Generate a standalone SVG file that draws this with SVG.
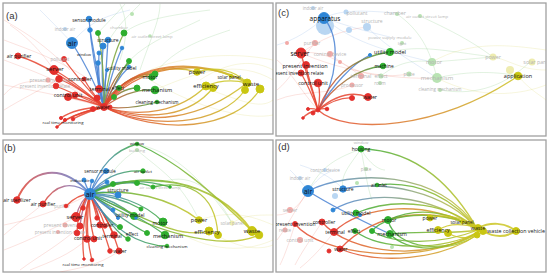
<svg xmlns="http://www.w3.org/2000/svg" width="550" height="277" viewBox="0 0 550 277">
<defs>
<style>
.fr{fill:#fff;stroke:#a0a0a0;stroke-width:1.3}
.pl{font-family:"Liberation Sans",Arial,sans-serif;font-size:9.5px;fill:#333}
.lb{font-family:"Open Sans","Liberation Sans",sans-serif;fill:#111;text-anchor:middle;dominant-baseline:central}
.fd{font-family:"Open Sans","Liberation Sans",sans-serif;fill:#b4b4b4;text-anchor:middle;dominant-baseline:central}
.r{fill:#e3302c;stroke:#e3302c;stroke-width:.9}.b{fill:#2f86d6;stroke:#2f86d6;stroke-width:.9}.g{fill:#2eae2e;stroke:#2eae2e;stroke-width:.9}.y{fill:#c9c612;stroke:#c9c612;stroke-width:.9}
.fr2{fill:#f3a9a6}.fb2{fill:#b9d6f2}.fg2{fill:#b9e3b3}.fy2{fill:#eeecb0}
.e{fill:none;stroke-width:1.3;stroke-opacity:.85;stroke-linecap:round}
.ew{fill:none;stroke-width:2;stroke-opacity:.85;stroke-linecap:round}
.h{fill:none;stroke-width:.9;stroke-opacity:.17}
.er{stroke:#e5432e}.eb{stroke:#4a83d4}.eg{stroke:#3aa838}.ey{stroke:#cbc524}.eo{stroke:#ea7a2a}
</style>
<linearGradient id="gRY" x1="0" y1="0" x2="1" y2="0"><stop offset="0" stop-color="#e5432e"/><stop offset="1" stop-color="#cbc524"/></linearGradient>
<linearGradient id="gRG" x1="0" y1="0" x2="1" y2="0"><stop offset="0" stop-color="#e5432e"/><stop offset="1" stop-color="#3aa838"/></linearGradient>
<linearGradient id="gGY" x1="0" y1="0" x2="1" y2="0"><stop offset="0" stop-color="#3aa838"/><stop offset="1" stop-color="#cbc524"/></linearGradient>
<linearGradient id="gBY" x1="0" y1="0" x2="1" y2="0"><stop offset="0" stop-color="#4a83d4"/><stop offset="1" stop-color="#cbc524"/></linearGradient>
<linearGradient id="gBG" x1="0" y1="0" x2="1" y2="0"><stop offset="0" stop-color="#4a83d4"/><stop offset="1" stop-color="#3aa838"/></linearGradient>
<linearGradient id="gRB" x1="0" y1="0" x2="1" y2="0"><stop offset="0" stop-color="#e5432e"/><stop offset=".5" stop-color="#9a6a9a"/><stop offset="1" stop-color="#4a83d4"/></linearGradient>
<clipPath id="ca"><rect x="3" y="3" width="270" height="131"/></clipPath>
<clipPath id="cc"><rect x="276" y="3" width="270" height="133"/></clipPath>
<clipPath id="cb"><rect x="3" y="140" width="270" height="132"/></clipPath>
<clipPath id="cd"><rect x="276" y="140" width="270" height="132"/></clipPath>
</defs>
<rect width="550" height="277" fill="#fff"/>
<rect class="fr" x="3" y="3" width="270" height="131"/>
<rect class="fr" x="276" y="3" width="270" height="133"/>
<rect class="fr" x="3" y="140" width="270" height="132"/>
<rect class="fr" x="276" y="140" width="270" height="132"/>

<!-- ============ PANEL A ============ -->
<g id="panel-a" clip-path="url(#ca)">
<g id="a-haze">
<path class="h er" d="M104,107 C60,80 30,70 4,60"/><path class="h er" d="M104,107 C60,95 30,90 4,85"/><path class="h er" d="M90,80 C60,60 30,50 4,40"/><path class="h er" d="M80,90 C50,80 20,75 4,95"/><path class="h er" d="M70,70 C40,40 20,30 4,20"/><path class="h er" d="M54,70 C40,50 25,35 10,25"/><path class="h er" d="M59,79 C40,90 20,100 4,110"/>
<path class="h eg" d="M120,60 C130,30 125,15 120,4"/><path class="h eg" d="M100,60 C110,30 130,15 140,4"/><path class="h eg" d="M130,60 C150,40 180,30 200,20"/><path class="h eg" d="M150,80 C170,50 200,40 230,30"/><path class="h eg" d="M140,70 C150,40 160,20 160,4"/><path class="h eg" d="M124,33 C140,20 170,15 210,10"/><path class="h eg" d="M98,33 C110,20 120,10 125,4"/>
<path class="h ey" d="M200,80 C230,60 255,60 273,70"/><path class="h ey" d="M210,90 C240,100 260,110 273,100"/><path class="h ey" d="M150,80 C200,110 250,120 273,115"/><path class="h ey" d="M150,70 C200,50 250,55 273,60"/><path class="h ey" d="M155,90 C200,70 240,60 273,80"/>
<path class="h eb" d="M72,43 C60,30 50,20 40,10"/><path class="h eb" d="M72,43 C90,20 110,15 130,10"/>
<circle class="fb2" cx="65" cy="29" r="2"/><circle class="fg2" cx="150" cy="36" r="1.8"/><circle class="fg2" cx="132" cy="14" r="2"/><circle class="fr2" cx="48" cy="80" r="2.5"/>
</g>
<g id="a-edges">
<path class="e er" d="M104,107 Q50,65 18,56"/><path class="e er" d="M104,107 Q75,75 64,59"/><path class="e er" d="M104,107 Q70,78 54,70"/><path class="e er" d="M104,107 Q75,85 59,79"/><path class="e er" d="M104,107 Q70,92 56,86"/><path class="e er" d="M104,107 Q85,100 68,97"/><path class="e er" d="M104,107 Q88,96 75,95"/><path class="e er" d="M104,107 Q102,98 99,89"/><path class="e er" d="M104,107 Q98,103 97,98"/><path class="e er" d="M104,107 Q90,90 84,79"/><path class="e er" d="M104,107 Q75,108 61,118"/><path class="e er" d="M104,107 Q80,112 65,120"/><path class="e er" d="M104,107 Q86,112 73,119"/><path class="e er" d="M104,107 Q70,114 57,127"/><path class="e er" d="M104,107 Q98,110 93,109"/>
<path class="e eb" d="M104,107 Q90,70 72,43"/><path class="e eb" d="M104,107 Q92,60 89,19"/><path class="e eb" d="M104,107 Q96,65 90,30"/><path class="e eb" d="M104,107 Q106,70 108,40"/><path class="e eb" d="M104,107 Q101,75 103,46"/><path class="e eb" d="M104,107 Q97,80 99,53"/><path class="e eb" d="M104,107 Q96,85 98,63"/><path class="e eb" d="M104,107 Q112,70 122,48"/><path class="e eb" d="M104,107 Q115,80 129,67"/><path class="e eb" d="M104,107 Q104,85 107,70"/>
<path class="e" stroke="#7aa53a" d="M104,107 Q104,60 98,33"/><path class="e" stroke="#7aa53a" d="M104,107 Q110,60 124,33"/><path class="e" stroke="url(#gRG)" d="M104,107 Q112,75 130,63"/><path class="e" stroke="url(#gRG)" d="M104,107 Q125,72 152,77"/><path class="e" stroke="url(#gRG)" d="M104,107 Q125,72 155,74"/><path class="e" stroke="url(#gRG)" d="M104,107 Q130,88 155,90"/><path class="e" stroke="url(#gRG)" d="M104,107 Q120,88 137,88"/><path class="e" stroke="url(#gRG)" d="M104,107 Q110,92 119,88"/><path class="e" stroke="url(#gRG)" d="M104,107 Q108,98 114,97"/><path class="e" stroke="url(#gRG)" d="M104,107 Q130,110 157,102"/><path class="e" stroke="url(#gRG)" d="M104,107 Q118,75 129,61"/>
<path class="e" stroke="url(#gRY)" d="M104,107 C130,70 170,64 197,72"/><path class="ew" stroke="url(#gRY)" d="M104,107 C130,58 205,58 247,83"/><path class="e" stroke="url(#gRY)" d="M104,107 C140,62 200,62 231,76"/><path class="e" stroke="url(#gRY)" d="M104,107 C140,118 180,112 206,86"/><path class="e" stroke="url(#gRY)" d="M104,107 C150,122 190,116 213,88"/><path class="e" stroke="url(#gRY)" d="M104,107 C150,130 220,126 245,90"/><path class="e" stroke="url(#gRY)" d="M104,107 C160,136 235,130 260,89"/><path class="e" stroke="url(#gRY)" d="M104,107 C150,126 200,120 247,83"/>
<path class="e ey" d="M197,72 C215,66 235,70 247,83"/><path class="e ey" d="M206,86 C220,80 235,80 247,83"/>
</g>
<text class="pl" x="6" y="19">(a)</text>
<text class="fd" x="65" y="29" font-size="4.5">indoor air</text>
<text class="fd" x="152" y="36" font-size="4.2">air outlet street lamp</text>
<text class="fd" x="119" y="27" font-size="4.3">chamber</text>
<text class="fd" x="50" y="80" font-size="5">present invention</text>
<text class="fd" x="45" y="86" font-size="4.5">present invention relate</text>
<g id="a-sensor-module"><circle class="b" cx="89" cy="19" r="2.8"/><text class="lb" x="89" y="20" font-size="4.8">sensor module</text></g>
<g id="a-air"><circle class="b" cx="72" cy="43" r="5.5"/><text class="lb" x="72" y="43" font-size="7.5">air</text></g>
<g id="a-b1"><circle class="b" cx="90" cy="30" r="2.3"/></g>
<g id="a-structure"><circle class="b" cx="108" cy="40" r="2.8"/><circle class="b" cx="103" cy="46" r="3"/><text class="lb" x="108" y="40" font-size="5">structure</text></g>
<g id="a-window"><circle class="b" cx="99" cy="53" r="2"/><text class="lb" x="84" y="54" font-size="3.8">window</text></g>
<g id="a-b2"><circle class="b" cx="98" cy="63" r="2.3"/><circle class="b" cx="122" cy="48" r="1.8"/><circle class="b" cx="107" cy="70" r="1.5"/></g>
<g id="a-g1"><circle class="g" cx="98" cy="33" r="2.5"/><circle class="g" cx="124" cy="33" r="3"/></g>
<g id="a-utility-model"><circle class="g" cx="129" cy="61" r="2.5"/><circle class="b" cx="129" cy="67" r="1.8"/><text class="lb" x="122" y="68" font-size="5">utility model</text></g>
<g id="a-motor"><circle class="g" cx="155" cy="74" r="3"/><circle class="g" cx="152" cy="77" r="3.2"/><text class="lb" x="150" y="77" font-size="5.2">motor</text></g>
<g id="a-effect"><circle class="g" cx="119" cy="88" r="2.5"/><circle class="g" cx="114" cy="97" r="2.5"/><text class="lb" x="118" y="88" font-size="4.8">effect</text></g>
<g id="a-g2"><circle class="g" cx="137" cy="88" r="3"/></g>
<g id="a-mechanism"><circle class="g" cx="155" cy="90" r="3.8"/><text class="lb" x="157" y="90" font-size="5.6">mechanism</text></g>
<g id="a-cleaning-mechanism"><circle class="g" cx="157" cy="102" r="1.8"/><text class="lb" x="157" y="102" font-size="4.5">cleaning mechanism</text></g>
<g id="a-air-purifier"><circle class="r" cx="18" cy="56" r="3"/><text class="lb" x="19" y="56" font-size="5">air purifier</text></g>
<g id="a-pollutant"><circle class="r" cx="64" cy="59" r="2.5"/><text class="fd" x="60" y="59" font-size="4.5" fill="#999">pollutant</text></g>
<g id="a-server"><circle class="r" cx="54" cy="70" r="4.5"/><circle class="r" cx="59" cy="79" r="3.3"/><circle class="r" cx="56" cy="86" r="2.8"/><text class="lb" x="55" y="69" font-size="6">server</text></g>
<g id="a-controller"><circle class="r" cx="84" cy="79" r="2"/><text class="lb" x="80" y="79" font-size="5.2">controller</text></g>
<g id="a-control-unit"><circle class="r" cx="68" cy="97" r="3.5"/><circle class="r" cx="75" cy="95" r="3"/><text class="lb" x="68" y="95" font-size="5.3">control unit</text></g>
<g id="a-terminal"><circle class="r" cx="99" cy="89" r="3.5"/><circle class="r" cx="97" cy="98" r="3"/><text class="lb" x="100" y="89" font-size="5.3">terminal</text></g>
<g id="a-water"><circle class="r" cx="104" cy="107" r="3.5"/><circle class="r" cx="93" cy="109" r="2.5"/><circle class="r" cx="110" cy="107" r="2"/><text class="lb" x="103" y="107" font-size="5">water</text></g>
<g id="a-real-time-monitoring"><circle class="r" cx="61" cy="118" r="1.6"/><circle class="r" cx="65" cy="120" r="1.6"/><circle class="r" cx="73" cy="119" r="1.8"/><circle class="r" cx="57" cy="127" r="1.3"/><text class="lb" x="63" y="122" font-size="4.3">real time monitoring</text></g>
<g id="a-power"><circle class="y" cx="197" cy="72" r="3.3"/><text class="lb" x="197" y="72" font-size="5.6">power</text></g>
<g id="a-solar-panel"><circle class="y" cx="231" cy="76" r="1.8"/><text class="lb" x="229" y="77" font-size="4.5">solar panel</text></g>
<g id="a-efficiency"><circle class="y" cx="206" cy="86" r="4"/><circle class="y" cx="213" cy="88" r="3.5"/><text class="lb" x="206" y="86" font-size="5.8">efficiency</text></g>
<g id="a-waste"><circle class="y" cx="247" cy="83" r="4"/><circle class="y" cx="245" cy="90" r="3.5"/><circle class="y" cx="260" cy="89" r="4"/><text class="lb" x="251" y="84" font-size="6">waste</text></g>
</g>

<!-- ============ PANEL C ============ -->
<g id="panel-c" clip-path="url(#cc)">
<g id="c-haze">
<path class="h er" d="M318,110 C300,90 290,70 277,60"/><path class="h er" d="M301,53 C320,40 340,30 367,27"/><path class="h er" d="M330,54 C350,70 370,80 409,74"/><path class="h er" d="M315,43 C300,60 290,80 277,90"/><path class="h er" d="M361,76 C340,60 320,50 301,53"/><path class="h er" d="M352,85 C330,95 300,90 277,100"/><path class="h er" d="M301,53 C340,70 390,80 437,78"/>
<path class="h eb" d="M324,18 C340,10 360,10 395,13"/><path class="h eb" d="M324,18 C345,25 360,30 390,37"/><path class="h eb" d="M324,18 C350,40 380,50 432,62"/><path class="h eb" d="M367,27 C390,50 410,60 437,78"/><path class="h eb" d="M324,18 C310,30 295,40 277,45"/>
<path class="h eg" d="M397,14 C420,30 430,50 437,78"/><path class="h eg" d="M432,62 C460,60 480,58 493,57"/><path class="h eg" d="M437,78 C470,70 500,72 518,76"/><path class="h eg" d="M381,76 C400,60 420,60 432,62"/><path class="h eg" d="M440,90 C470,95 500,90 530,62"/><path class="h eg" d="M420,16 C450,30 470,40 493,57"/><path class="h eg" d="M390,52 C420,45 440,50 493,57"/>
<path class="h ey" d="M493,57 C510,60 520,70 546,70"/><path class="h ey" d="M518,76 C530,90 540,95 546,100"/><path class="h ey" d="M437,78 C480,100 520,95 546,85"/><path class="h ey" d="M432,62 C470,40 510,45 546,50"/>
<circle class="fb2" cx="325" cy="26" r="9"/><circle class="fb2" cx="367" cy="27" r="4"/><circle class="fb2" cx="349" cy="30" r="3"/><circle class="fb2" cx="313" cy="8" r="2"/><circle class="fb2" cx="346" cy="12" r="2.5"/>
<circle class="fg2" cx="397" cy="14" r="2"/><circle class="fg2" cx="420" cy="16" r="2"/><circle class="fg2" cx="432" cy="62" r="4"/><circle class="fg2" cx="437" cy="78" r="5"/><circle class="fg2" cx="440" cy="90" r="2"/><circle class="fg2" cx="409" cy="74" r="2.5"/><circle class="fg2" cx="381" cy="76" r="2.5"/><circle class="fg2" cx="380" cy="83" r="2"/><circle class="fg2" cx="402" cy="43" r="2"/>
<circle class="fy2" cx="493" cy="57" r="3.5"/><circle class="fy2" cx="532" cy="62" r="3.5"/><circle class="fy2" cx="510" cy="70" r="4"/>
<circle class="fr2" cx="315" cy="43" r="3"/><circle class="fr2" cx="330" cy="54" r="3"/><circle class="fr2" cx="361" cy="76" r="3"/><circle class="fr2" cx="352" cy="85" r="2.5"/><circle class="fr2" cx="287" cy="43" r="2"/><circle class="fr2" cx="340" cy="62" r="2"/>
</g>
<g id="c-edges">
<path class="e eb" d="M318,110 C337,80 342,40 324,18"/>
<path class="e eb" d="M318,110 C333,85 352,64 370,55"/>
<path class="e" stroke="url(#gRG)" d="M318,110 C330,80 350,58 390,52"/>
<path class="e" stroke="url(#gRG)" d="M318,110 C333,86 358,68 383,66"/>
<path class="e er" d="M318,110 C332,98 350,90 368,97"/><path class="e er" d="M318,110 C330,102 342,97 352,98"/>
<path class="e" stroke="url(#gRY)" d="M318,110 C345,135 440,130 518,76"/>
<path class="e er" d="M318,110 C312,90 305,70 301,53"/><path class="e er" d="M318,110 C314,92 308,78 306,65"/><path class="e er" d="M318,110 C312,95 305,80 301,73"/><path class="e er" d="M318,110 C320,100 320,90 318,83"/>
<path class="e er" d="M318,110 Q312,108 308,109"/><path class="e er" d="M318,110 Q314,112 313,113"/><path class="e er" d="M318,110 Q323,108 327,109"/><path class="e er" d="M318,110 Q308,112 303,118"/>
</g>
<text class="pl" x="278" y="16">(c)</text>
<text class="fd" x="313" y="8" font-size="4.5">indoor air</text>
<text class="fd" x="357" y="13" font-size="5">pollutant</text>
<text class="fd" x="395" y="13" font-size="5.3">chamber</text>
<text class="fd" x="427" y="16" font-size="4.3">air outlet street lamp</text>
<text class="fd" x="372" y="21" font-size="5">structure</text>
<text class="fd" x="390" y="37" font-size="4.3">power supply module</text>
<text class="fd" x="402" y="43" font-size="4.3">light</text>
<text class="fd" x="312" y="43" font-size="4.8">purifier</text>
<text class="fd" x="330" y="54" font-size="5">control device</text>
<text class="fd" x="361" y="76" font-size="5.3">terminal</text>
<text class="fd" x="381" y="76" font-size="5">effect</text>
<text class="fd" x="409" y="74" font-size="4.8">plate</text>
<text class="fd" x="352" y="85" font-size="4.8">processor</text>
<text class="fd" x="380" y="83" font-size="4.5">room</text>
<text class="fd" x="434" y="62" font-size="5.6">motor</text>
<text class="fd" x="437" y="78" font-size="6">mechanism</text>
<text class="fd" x="440" y="89" font-size="4.5">cleaning mechanism</text>
<text class="fd" x="493" y="57" font-size="5.3">power</text>
<text class="fd" x="537" y="62" font-size="5.3">solar panel</text>
<g id="c-apparatus"><circle class="b" cx="324" cy="18" r="5.5"/><text class="lb" x="325" y="18" font-size="6.5">apparatus</text></g>
<g id="c-b1"><circle class="b" cx="370" cy="55" r="1.6"/></g>
<g id="c-utility-model"><circle class="g" cx="390" cy="52" r="3.6"/><text class="lb" x="390" y="52" font-size="5.5">utility model</text></g>
<g id="c-machine"><circle class="g" cx="383" cy="66" r="2.8"/><text class="lb" x="384" y="66" font-size="4.8">machine</text></g>
<g id="c-server"><circle class="r" cx="301" cy="53" r="5"/><text class="lb" x="300" y="53" font-size="6.5">server</text></g>
<g id="c-present-invention"><circle class="r" cx="306" cy="65" r="3.5"/><circle class="r" cx="301" cy="73" r="3"/><text class="lb" x="305" y="66" font-size="5.5">present invention</text></g>
<g id="c-present-invention-relate"><text class="lb" x="297" y="73" font-size="4.8" fill="#666">present invention relate</text></g>
<g id="c-control-unit"><circle class="r" cx="318" cy="83" r="3.8"/><text class="lb" x="313" y="83" font-size="5.5">control unit</text></g>
<g id="c-water"><circle class="r" cx="368" cy="97" r="3.5"/><circle class="r" cx="352" cy="98" r="2.5"/><text class="lb" x="370" y="97" font-size="5.3">water</text></g>
<g id="c-hub"><circle class="r" cx="318" cy="110" r="2"/><circle class="r" cx="308" cy="109" r="1.5"/><circle class="r" cx="313" cy="113" r="2"/><circle class="r" cx="327" cy="109" r="1.8"/><circle class="r" cx="303" cy="118" r="1.3"/></g>
<g id="c-application"><circle class="y" cx="518" cy="76" r="3.8"/><text class="lb" x="518" y="76" font-size="5.5">application</text></g>
</g>

<!-- ============ PANEL B ============ -->
<g id="panel-b" clip-path="url(#cb)">
<g id="b-haze">
<path class="h er" d="M90,194 C60,210 30,220 4,225"/><path class="h er" d="M76,217 C50,230 30,240 4,250"/><path class="h er" d="M80,226 C60,245 40,255 20,270"/><path class="h er" d="M43,204 C30,215 15,225 4,235"/><path class="h er" d="M119,251 C100,265 80,268 60,272"/><path class="h er" d="M87,239 C70,255 50,262 30,270"/>
<path class="h eg" d="M137,150 C120,160 110,175 107,182"/><path class="h eg" d="M137,150 C160,170 180,180 199,220"/><path class="h eg" d="M153,187 C180,170 210,180 232,223"/><path class="h eg" d="M137,144 C160,150 190,160 232,223"/>
<path class="h ey" d="M199,220 C230,210 250,215 273,225"/><path class="h ey" d="M209,231 C240,250 260,250 273,245"/><path class="h ey" d="M163,222 C200,250 240,255 273,240"/><path class="h ey" d="M232,223 C245,215 255,215 273,215"/>
<circle class="fg2" cx="137" cy="150" r="2"/><circle class="fy2" cx="232" cy="223" r="2.5"/><circle class="fr2" cx="65" cy="225" r="2.5"/><circle class="fr2" cx="58" cy="232" r="2"/>
</g>
<g id="b-edges">
<path class="ew" stroke="url(#gRB)" d="M17,200 C30,168 62,162 90,194"/>
<path class="e" stroke="url(#gRB)" d="M43,204 C55,184 72,180 90,194"/>
<path class="e er" d="M66,206 Q78,194 90,194"/><path class="e er" d="M83,208 Q84,198 90,194"/>
<path class="e" stroke="#b05a80" d="M76,217 Q80,200 90,194"/><path class="e" stroke="#b05a80" d="M80,226 Q82,205 90,194"/><path class="e er" d="M77,233 Q78,205 90,194"/>
<path class="e er" d="M87,239 Q84,215 90,194"/><path class="e er" d="M94,239 Q88,215 90,194"/>
<path class="e" stroke="#b05a80" d="M90,194 Q98,208 100,225"/><path class="e er" d="M90,194 Q94,205 97,218"/>
<path class="e er" d="M90,194 Q104,212 114,235"/><path class="e er" d="M90,194 Q110,220 119,251"/><path class="e er" d="M90,194 Q102,225 110,251"/><path class="e er" d="M90,194 Q100,210 105,226"/>
<path class="e er" d="M90,194 Q84,230 92,260"/><path class="e er" d="M90,194 Q80,230 84,259"/>
<path class="e eb" d="M90,194 Q98,178 106,171"/><path class="e eb" d="M90,194 Q86,186 84,180"/><path class="e eb" d="M90,194 Q90,186 92,181"/><path class="e eb" d="M90,194 Q100,184 107,182"/><path class="e eb" d="M90,194 Q105,190 118,195"/><path class="e eb" d="M90,194 Q104,202 113,210"/><path class="e eb" d="M90,194 Q108,205 118,218"/>
<path class="e" stroke="url(#gBG)" d="M90,194 C100,165 115,150 137,144"/>
<path class="e" stroke="url(#gBG)" d="M90,194 C105,175 125,170 143,171"/>
<path class="e" stroke="url(#gBG)" d="M90,194 C100,186 106,184 113,184"/>
<path class="e" stroke="url(#gBG)" d="M90,194 C105,183 122,180 137,183"/>
<path class="e" stroke="url(#gBG)" d="M90,194 C110,180 140,178 170,187"/>
<path class="e" stroke="url(#gBG)" d="M90,194 C110,182 135,180 153,187"/>
<path class="e" stroke="url(#gBG)" d="M90,194 Q115,200 134,216"/>
<path class="e" stroke="url(#gBG)" d="M90,194 Q118,196 141,209"/>
<path class="e" stroke="url(#gBG)" d="M90,194 C115,193 145,203 163,222"/>
<path class="e" stroke="url(#gBG)" d="M90,194 C115,205 145,220 165,235"/>
<path class="e" stroke="url(#gBG)" d="M90,194 C100,210 110,222 120,227"/>
<path class="e" stroke="url(#gBG)" d="M90,194 C105,215 115,232 128,239"/>
<path class="e" stroke="url(#gBG)" d="M90,194 C110,210 130,225 147,233"/>
<path class="e" stroke="url(#gBG)" d="M90,194 C108,228 140,246 167,246"/>
<path class="e" stroke="url(#gGY)" d="M90,194 C130,188 170,198 199,220"/>
<path class="ew" stroke="url(#gGY)" d="M90,194 C140,168 215,178 252,231"/>
<path class="e" stroke="url(#gGY)" d="M137,144 C175,160 210,190 252,231"/>
<path class="e" stroke="url(#gGY)" d="M90,194 C140,216 180,240 209,231"/>
<path class="e" stroke="url(#gGY)" d="M90,194 C150,232 222,252 259,235"/>
<path class="e" stroke="url(#gGY)" d="M153,187 C185,180 215,190 218,235"/>
</g>
<text class="pl" x="4" y="151">(b)</text>
<text class="fd" x="137" y="150" font-size="4.3">building</text>
<text class="fd" x="160" y="187" font-size="4.2">air outlet street lamp</text>
<text class="fd" x="64" y="225" font-size="5">present invention</text>
<text class="fd" x="60" y="232" font-size="4.5">present invention relate</text>
<text class="fd" x="232" y="223" font-size="4.5">solar panel</text>
<text class="fd" x="62" y="206" font-size="4.5">purifier</text>
<g id="b-air"><circle class="b" cx="90" cy="194" r="5.5"/><text class="lb" x="90" y="194" font-size="7.5">air</text></g>
<g id="b-sensor-module"><circle class="b" cx="106" cy="171" r="2.5"/><text class="lb" x="100" y="171" font-size="4.5">sensor module</text></g>
<g id="b-indoor-air"><circle class="b" cx="84" cy="180" r="2"/><circle class="b" cx="92" cy="181" r="1.8"/><text class="lb" x="80" y="180" font-size="4.3">indoor air</text></g>
<g id="b-b1"><circle class="b" cx="107" cy="182" r="2"/><circle class="b" cx="113" cy="210" r="2"/><circle class="b" cx="118" cy="218" r="1.5"/></g>
<g id="b-structure"><circle class="b" cx="118" cy="195" r="3"/><text class="lb" x="118" y="190" font-size="5">structure</text></g>
<g id="b-window"><circle class="g" cx="137" cy="144" r="1.8"/><text class="lb" x="137" y="143" font-size="3.8">window</text></g>
<g id="b-air-outlet"><circle class="g" cx="143" cy="171" r="2.2"/><text class="lb" x="143" y="171" font-size="4.3">air outlet</text></g>
<g id="b-g1"><circle class="g" cx="113" cy="184" r="2.5"/><circle class="g" cx="137" cy="183" r="2.5"/><circle class="g" cx="153" cy="187" r="2"/><circle class="g" cx="170" cy="187" r="1.3"/></g>
<g id="b-utility-model"><circle class="g" cx="134" cy="216" r="3.5"/><circle class="g" cx="141" cy="209" r="2"/><circle class="b" cx="136" cy="218" r="1.3"/><text class="lb" x="130" y="215" font-size="5">utility model</text></g>
<g id="b-motor"><circle class="g" cx="163" cy="222" r="4"/><text class="lb" x="160" y="223" font-size="5.2">motor</text></g>
<g id="b-mechanism"><circle class="g" cx="165" cy="235" r="3.8"/><text class="lb" x="168" y="236" font-size="5.6">mechanism</text></g>
<g id="b-effect"><circle class="g" cx="120" cy="227" r="2.5"/><circle class="g" cx="128" cy="239" r="2.3"/><circle class="g" cx="147" cy="233" r="2.5"/><text class="lb" x="132" y="234" font-size="4.8">effect</text></g>
<g id="b-cleaning-mechanism"><circle class="g" cx="167" cy="246" r="1.8"/><text class="lb" x="167" y="246" font-size="4.3">cleaning mechanism</text></g>
<g id="b-air-sterilizer"><circle class="r" cx="17" cy="200" r="3.3"/><text class="lb" x="17" y="200" font-size="5">air sterilizer</text></g>
<g id="b-air-purifier"><circle class="r" cx="43" cy="204" r="3"/><text class="lb" x="43" y="204" font-size="5">air purifier</text></g>
<g id="b-r1"><circle class="r" cx="66" cy="206" r="1.8"/><circle class="r" cx="83" cy="208" r="2.3"/></g>
<g id="b-server"><circle class="r" cx="76" cy="217" r="4.5"/><circle class="r" cx="80" cy="226" r="3"/><circle class="r" cx="77" cy="233" r="2.8"/><text class="lb" x="75" y="217" font-size="5.8">server</text></g>
<g id="b-controller"><circle class="r" cx="100" cy="225" r="3"/><circle class="r" cx="97" cy="218" r="2.2"/><circle class="r" cx="105" cy="226" r="2.2"/><text class="lb" x="102" y="225" font-size="5">controller</text></g>
<g id="b-terminal"><circle class="r" cx="114" cy="235" r="3.3"/><text class="lb" x="112" y="236" font-size="5">terminal</text></g>
<g id="b-control-unit"><circle class="r" cx="87" cy="239" r="3.3"/><circle class="r" cx="94" cy="239" r="3"/><text class="lb" x="88" y="238" font-size="5.2">control unit</text></g>
<g id="b-water"><circle class="r" cx="119" cy="251" r="3"/><circle class="r" cx="110" cy="251" r="2.3"/><text class="lb" x="120" y="251" font-size="5">water</text></g>
<g id="b-real-time-monitoring"><circle class="r" cx="92" cy="260" r="1.8"/><circle class="r" cx="84" cy="259" r="1.3"/><text class="lb" x="83" y="264" font-size="4.3">real time monitoring</text></g>
<g id="b-power"><circle class="y" cx="199" cy="220" r="3.3"/><text class="lb" x="199" y="220" font-size="5.5">power</text></g>
<g id="b-efficiency"><circle class="y" cx="209" cy="231" r="4"/><circle class="y" cx="218" cy="235" r="3.5"/><text class="lb" x="207" y="232" font-size="5.8">efficiency</text></g>
<g id="b-waste"><circle class="y" cx="252" cy="231" r="4.5"/><circle class="y" cx="259" cy="235" r="3.8"/><text class="lb" x="252" y="231" font-size="6">waste</text></g>
</g>

<!-- ============ PANEL D ============ -->
<g id="panel-d" clip-path="url(#cd)">
<g id="d-haze">
<path class="h er" d="M308,191 C295,210 285,230 277,240"/><path class="h er" d="M295,224 C290,240 285,255 280,265"/><path class="h er" d="M322,222 C310,240 300,255 295,265"/><path class="h er" d="M308,191 C300,205 290,215 277,215"/><path class="h er" d="M334,232 C320,250 310,260 300,268"/>
<path class="h eb" d="M308,191 C320,175 330,170 340,170"/><path class="h eb" d="M308,191 C300,180 295,175 290,170"/><path class="h eb" d="M343,189 C330,175 315,170 300,165"/>
<path class="h eg" d="M361,149 C350,165 340,175 343,189"/><path class="h eg" d="M361,149 C370,165 380,170 385,170"/><path class="h eg" d="M361,149 C330,160 320,170 308,191"/><path class="h eg" d="M361,149 C365,170 368,190 372,200"/>
<circle class="fb2" cx="325" cy="170" r="2"/><circle class="fb2" cx="300" cy="178" r="2"/><circle class="fb2" cx="335" cy="196" r="3"/><circle class="fg2" cx="366" cy="169" r="2"/><circle class="fg2" cx="357" cy="183" r="2"/><circle class="fr2" cx="290" cy="210" r="3"/><circle class="fr2" cx="300" cy="240" r="3"/><circle class="fr2" cx="285" cy="230" r="2.5"/><circle class="fg2" cx="392" cy="247" r="2"/>
</g>
<g id="d-edges">
<path class="e" stroke="url(#gGY)" d="M361,149 C420,150 455,190 478,230"/>
<path class="e" stroke="url(#gBY)" d="M308,191 C350,170 440,168 478,230"/>
<path class="e" stroke="url(#gGY)" d="M377,185 C420,180 455,200 478,230"/>
<path class="e" stroke="url(#gBY)" d="M343,189 C380,180 445,190 478,230"/>
<path class="e eb" d="M308,191 C330,205 360,220 390,234"/>
<path class="e" stroke="url(#gBY)" d="M333,210 C365,190 430,192 478,230"/>
<path class="e" stroke="url(#gGY)" d="M356,213 C400,195 452,205 478,230"/>
<path class="e" stroke="url(#gRY)" d="M334,232 C360,205 430,198 478,230"/>
<path class="e" stroke="url(#gRY)" d="M340,249 C375,210 440,205 478,230"/>
<path class="e" stroke="url(#gRY)" d="M295,224 C320,255 420,268 478,232"/>
<path class="e" stroke="url(#gRY)" d="M322,222 C350,255 430,262 478,232"/>
<path class="e" stroke="url(#gRY)" d="M340,249 C380,265 440,260 477,235"/>
<path class="e" stroke="url(#gGY)" d="M388,220 C420,205 452,213 478,230"/>
<path class="e" stroke="url(#gGY)" d="M388,220 C395,250 450,255 478,232"/>
<path class="e" stroke="url(#gGY)" d="M390,234 C420,230 450,235 478,230"/>
<path class="e" stroke="url(#gGY)" d="M390,234 C410,255 455,250 477,235"/>
<path class="e" stroke="url(#gGY)" d="M355,231 C380,250 440,252 478,232"/>
<path class="e" stroke="url(#gGY)" d="M372,231 C395,245 440,245 478,230"/>
<path class="e" stroke="url(#gGY)" d="M372,231 C390,210 450,210 483,231"/>
<path class="e ey" d="M430,218 C450,212 465,220 478,228"/>
<path class="e ey" d="M438,230 C450,222 465,224 478,228"/>
<path class="e ey" d="M448,233 C460,240 470,238 477,235"/>
<path class="e ey" d="M462,222 C468,222 474,225 478,228"/>
<path class="ew ey" d="M478,228 C490,222 505,222 516,231"/>
<path class="ew ey" d="M483,231 C495,238 505,238 516,231"/>
</g>
<text class="pl" x="278" y="150">(d)</text>
<text class="fd" x="361" y="142" font-size="4">window</text>
<text class="fd" x="325" y="170" font-size="4.5">control device</text>
<text class="fd" x="300" y="178" font-size="4.5">indoor air</text>
<text class="fd" x="366" y="169" font-size="4.5">plate</text>
<text class="fd" x="290" y="210" font-size="5">server</text>
<text class="fd" x="300" y="240" font-size="5">control unit</text>
<text class="fd" x="285" y="230" font-size="4.5">relate</text>
<g id="d-air"><circle class="b" cx="308" cy="191" r="5.5"/><text class="lb" x="308" y="191" font-size="7">air</text></g>
<g id="d-structure"><circle class="b" cx="343" cy="189" r="3.2"/><text class="lb" x="343" y="189" font-size="5">structure</text></g>
<g id="d-b1"><circle class="b" cx="333" cy="210" r="2"/></g>
<g id="d-housing"><circle class="g" cx="361" cy="149" r="3"/><text class="lb" x="361" y="149" font-size="5">housing</text></g>
<g id="d-air-inlet"><circle class="g" cx="377" cy="185" r="1.8"/><text class="lb" x="379" y="185" font-size="4.5">air inlet</text></g>
<g id="d-utility-model"><circle class="g" cx="356" cy="213" r="3"/><circle class="b" cx="360" cy="215" r="1.6"/><text class="lb" x="356" y="213" font-size="5">utility model</text></g>
<g id="d-motor"><circle class="g" cx="388" cy="220" r="3.5"/><text class="lb" x="389" y="220" font-size="5">motor</text></g>
<g id="d-mechanism"><circle class="g" cx="390" cy="234" r="3.5"/><text class="lb" x="392" y="234" font-size="5.5">mechanism</text></g>
<g id="d-effect"><circle class="g" cx="355" cy="231" r="2.5"/><circle class="g" cx="372" cy="231" r="2.5"/><text class="lb" x="354" y="231" font-size="4.8">effect</text></g>
<g id="d-present-invention"><circle class="r" cx="295" cy="224" r="2.5"/><text class="lb" x="295" y="224" font-size="5">present invention</text></g>
<g id="d-controller"><circle class="r" cx="322" cy="222" r="3"/><text class="lb" x="324" y="222" font-size="5">controller</text></g>
<g id="d-terminal"><circle class="r" cx="334" cy="232" r="3.5"/><text class="lb" x="335" y="232" font-size="5">terminal</text></g>
<g id="d-water"><circle class="r" cx="340" cy="249" r="3"/><circle class="r" cx="329" cy="251" r="2"/><text class="lb" x="341" y="249" font-size="5">water</text></g>
<g id="d-power"><circle class="y" cx="430" cy="218" r="3"/><text class="lb" x="430" y="218" font-size="5">power</text></g>
<g id="d-efficiency"><circle class="y" cx="438" cy="230" r="3.5"/><circle class="y" cx="448" cy="233" r="3.5"/><text class="lb" x="438" y="230" font-size="5.3">efficiency</text></g>
<g id="d-solar-panel"><circle class="y" cx="462" cy="222" r="1.8"/><text class="lb" x="462" y="222" font-size="4.5">solar panel</text></g>
<g id="d-waste"><circle class="y" cx="478" cy="228" r="3.5"/><circle class="y" cx="483" cy="231" r="3.5"/><circle class="y" cx="477" cy="235" r="3"/><text class="lb" x="478" y="228" font-size="5.3">waste</text></g>
<g id="d-waste-collection-vehicle"><circle class="y" cx="516" cy="231" r="3.5"/><text class="lb" x="516" y="231" font-size="5.3">waste collection vehicle</text></g>
</g>
</svg>
